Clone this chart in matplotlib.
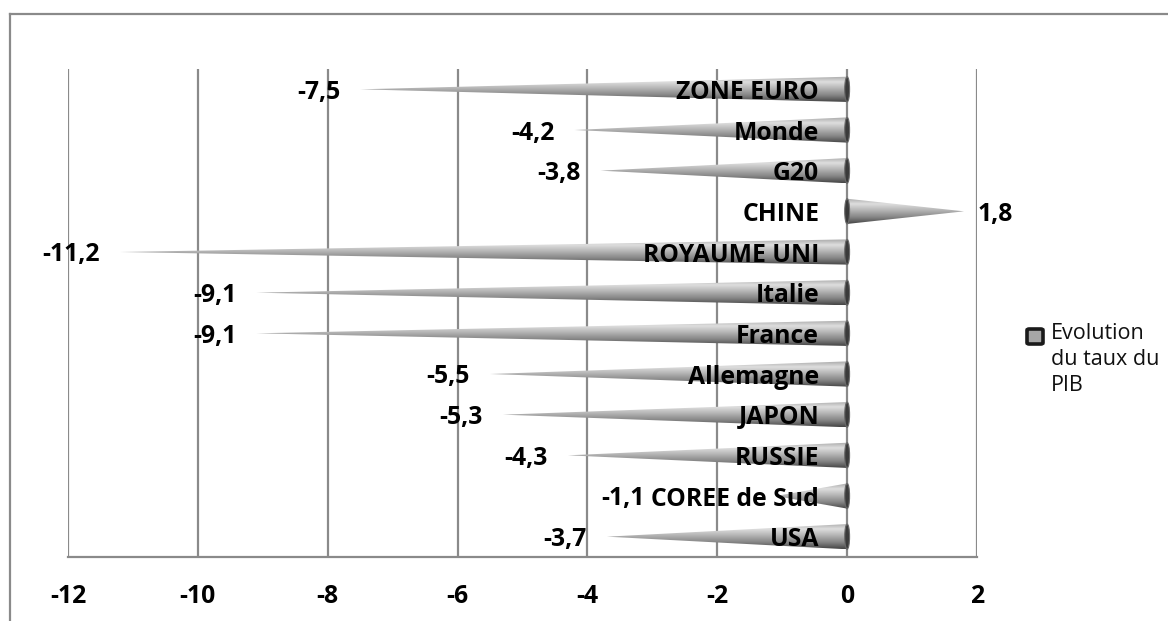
import numpy as np
import matplotlib
matplotlib.use("Agg")
import matplotlib.pyplot as plt
from matplotlib.colors import LinearSegmentedColormap
from matplotlib.patches import Polygon, Ellipse, FancyBboxPatch
from matplotlib.lines import Line2D

# Taux de croissance du PIB par pays / zone
categories = ["ZONE EURO", "Monde", "G20", "CHINE", "ROYAUME UNI", "Italie",
              "France", "Allemagne", "JAPON", "RUSSIE", "COREE de Sud", "USA"]
values = [-7.5, -4.2, -3.8, 1.8, -11.2, -9.1, -9.1, -5.5, -5.3, -4.3, -1.1, -3.7]
xticks = [-12, -10, -8, -6, -4, -2, 0, 2]
xtick_labels = ["-12", "-10", "-8", "-6", "-4", "-2", "0", "2"]
legend_label = "Evolution\ndu taux du\nPIB"

W, H = 1168, 621
plt.rcParams["font.family"] = ["Open Sans", "DejaVu Sans"]
FS = 17.8
GRID = "#8a8a8a"
PT = 72 / 100.0  # points per pixel

fig = plt.figure(figsize=(W / 100, H / 100), dpi=100)
fig.patch.set_facecolor("white")

# outer chart frame (top and left edges visible)
fig.add_artist(Line2D([10 / W, 1.0], [1 - 14 / H, 1 - 14 / H], color=GRID, lw=1.6,
                      transform=fig.transFigure))
fig.add_artist(Line2D([10 / W, 10 / W], [1 - 14 / H, 0.0], color=GRID, lw=1.6,
                      transform=fig.transFigure))

ax = fig.add_axes([68 / W, 1 - 557 / H, (977 - 68) / W, (557 - 69) / H])
n = len(categories)
ypos = np.arange(n)
ax.set_xlim(-12, 2)
ax.set_ylim(n - 0.5, -0.5)

for s in ["top", "right", "left"]:
    ax.spines[s].set_visible(False)
ax.spines["bottom"].set_color(GRID)
ax.spines["bottom"].set_linewidth(1.6)
ax.set_xticks(xticks)
ax.set_xticklabels(xtick_labels, fontsize=FS, fontweight="bold")
ax.tick_params(axis="x", length=0, pad=27 * PT)
ax.set_yticks([])
ax.grid(axis="x", color=GRID, lw=1.6)
ax.set_axisbelow(True)

cone_cmap = LinearSegmentedColormap.from_list(
    "cone", [(0.0, "#a8a8a8"), (0.22, "#dedede"), (0.45, "#b8b8b8"),
             (0.75, "#838383"), (1.0, "#444444")])
grad = np.linspace(0, 1, 128).reshape(-1, 1)
half = 0.31

for y, v in zip(ypos, values):
    tri = Polygon([(0, y - half), (0, y + half), (v, y)], closed=True,
                  transform=ax.transData, facecolor="none", edgecolor="none")
    im = ax.imshow(grad, cmap=cone_cmap, aspect="auto", interpolation="bilinear",
                   extent=[min(0, v), max(0, v), y + half, y - half], zorder=2)
    im.set_clip_path(tri)
    ax.add_patch(Ellipse((0, y), 0.075, 2 * half, facecolor="#3a3a3a",
                         edgecolor="#6a6a6a", lw=0.8, zorder=3))

ax.set_xlim(-12, 2)
ax.set_ylim(n - 0.5, -0.5)

# category names, right-aligned just left of zero
cat_texts = []
for y, c in zip(ypos, categories):
    t = ax.annotate(c, xy=(0, y), xytext=(-28 * PT, -3 * PT), textcoords="offset points",
                    ha="right", va="center", fontsize=FS, fontweight="bold",
                    color="black", zorder=5)
    cat_texts.append(t)

fig.canvas.draw()
renderer = fig.canvas.get_renderer()
gap = 20  # pixels between cone tip and value label
inv = ax.transData.inverted()

for y, v, ct in zip(ypos, values, cat_texts):
    label = f"{v:.1f}".replace(".", ",")
    tip_px = ax.transData.transform((v, y))
    if v < 0:
        right = tip_px[0] - gap
        cat_left = ct.get_window_extent(renderer).x0
        right = min(right, cat_left - 7)
        xd = inv.transform((right, tip_px[1]))[0]
        ax.annotate(label, xy=(xd, y), xytext=(0, -3 * PT), textcoords="offset points",
                    ha="right", va="center", fontsize=FS, fontweight="bold",
                    zorder=5, annotation_clip=False)
    else:
        xd = inv.transform((tip_px[0] + 14, tip_px[1]))[0]
        ax.annotate(label, xy=(xd, y), xytext=(0, -3 * PT), textcoords="offset points",
                    ha="left", va="center", fontsize=FS, fontweight="bold",
                    zorder=5, annotation_clip=False)

# legend
fig.add_artist(FancyBboxPatch((1027 / W, 1 - 344 / H), 16 / W, 15 / H,
                              boxstyle="round,pad=0,rounding_size=0.002",
                              facecolor="#a6a6a6", edgecolor="#1a1a1a", lw=2.6,
                              transform=fig.transFigure))
fig.text(1051 / W, 1 - 323 / H, legend_label, ha="left", va="top",
         fontsize=15.5, linespacing=1.3, color="#111111")

fig.savefig("out.png", dpi=100, facecolor="white")
